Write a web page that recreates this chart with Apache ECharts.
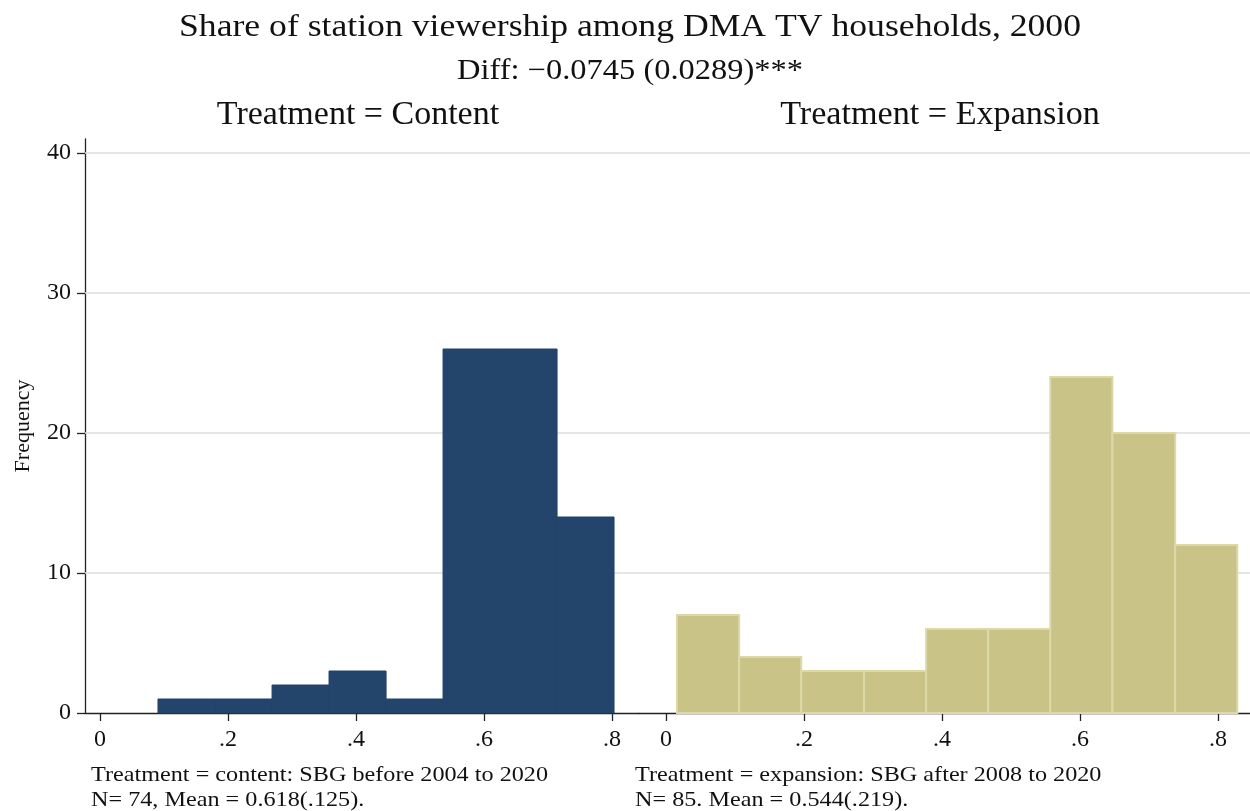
<!DOCTYPE html>
<html>
<head>
<meta charset="utf-8">
<script src="https://cdn.jsdelivr.net/npm/echarts@6/dist/echarts.min.js"></script>
<style>
html,body{margin:0;padding:0;background:#fff;}
#chart{width:1250px;height:811px;}
</style>
</head>
<body>
<div id="chart"></div>
<script>
// ---- Data ----
var contentBinEdges = [0.0906, 0.1797, 0.2688, 0.3578, 0.4469, 0.5359, 0.6250, 0.7140, 0.8030];
var contentCounts   = [1, 1, 2, 3, 1, 26, 26, 14];
var expansionBinEdges = [0.016, 0.106, 0.196, 0.287, 0.377, 0.467, 0.557, 0.647, 0.738, 0.828];
var expansionCounts   = [7, 4, 3, 3, 6, 6, 24, 20, 12];
var xTickValues = [0, 0.2, 0.4, 0.6, 0.8];
var yTickValues = [0, 10, 20, 30, 40];
var yGridValues = [10, 20, 30, 40];

var titleText = 'Share of station viewership among DMA TV households, 2000';
var subtitleText = 'Diff: \u22120.0745 (0.0289)***';
var panelTitles = ['Treatment = Content', 'Treatment = Expansion'];
var notes = [
  ['Treatment = content: SBG before 2004 to 2020', 'N= 74, Mean = 0.618(.125).'],
  ['Treatment = expansion: SBG after 2008 to 2020', 'N= 85. Mean = 0.544(.219).']
];

function toBins(edges, counts) {
  var out = [];
  for (var i = 0; i < counts.length; i++) out.push([edges[i], edges[i + 1], counts[i]]);
  return out;
}

var FONT = '"Liberation Serif", "Times New Roman", serif';
var chart = echarts.init(document.getElementById('chart'), null, {renderer: 'canvas'});

function xAxisCfg(idx, min, max) {
  return {
    type: 'value', gridIndex: idx, min: min, max: max,
    axisLine: {show: true, onZero: false, lineStyle: {color: '#222', width: 1.3}},
    axisTick: {show: true, length: 8, lineStyle: {color: '#222', width: 1.3}, customValues: xTickValues},
    axisLabel: {
      show: true, margin: 15, color: '#111', fontFamily: FONT, fontSize: 24,
      customValues: xTickValues,
      formatter: function (v) { return v === 0 ? '0' : String(+v.toFixed(1)).replace(/^0/, ''); }
    },
    splitLine: {show: false}
  };
}
function yAxisCfg(idx, showAxis) {
  return {
    type: 'value', gridIndex: idx, min: 0, max: 41,
    axisLine: {show: showAxis, onZero: false, lineStyle: {color: '#222', width: 1.3}},
    axisTick: {show: showAxis, length: 8, lineStyle: {color: '#222', width: 1.3}, customValues: yTickValues},
    axisLabel: {show: showAxis, margin: 14, color: '#111', fontFamily: FONT, fontSize: 24, customValues: yTickValues},
    splitLine: {show: false}
  };
}

function barSeries(idx, bins, fill, stroke, lw) {
  return {
    type: 'custom', xAxisIndex: idx, yAxisIndex: idx, z: 5,
    data: bins,
    encode: {x: [0, 1], y: 2},
    renderItem: function (params, api) {
      var p0 = api.coord([api.value(0), api.value(2)]);
      var p1 = api.coord([api.value(1), 0]);
      return {
        type: 'rect',
        shape: {x: p0[0], y: p0[1], width: p1[0] - p0[0], height: p1[1] - p0[1]},
        style: {fill: fill, stroke: stroke, lineWidth: lw}
      };
    },
    silent: true
  };
}
function gridLineSeries(idx) {
  return {
    type: 'line', xAxisIndex: idx, yAxisIndex: idx, data: [], z: 1, silent: true,
    markLine: {
      silent: true, symbol: 'none', animation: false, label: {show: false},
      lineStyle: {color: '#dedede', width: 1.6, type: 'solid'},
      data: yGridValues.map(function (v) { return {yAxis: v}; })
    }
  };
}

function txt(s, x, y, size, sx, align, rot) {
  return {
    type: 'text', x: x, y: y, scaleX: sx, rotation: rot || 0,
    style: {text: s, font: size + 'px ' + FONT, fill: '#111', align: align, verticalAlign: 'middle'}
  };
}

var graphics = [
  txt(titleText, 630, 28, 31, 1.15, 'center'),
  txt(subtitleText, 630, 71, 29, 1.12, 'center'),
  txt(panelTitles[0], 358, 115, 33, 1.03, 'center'),
  txt(panelTitles[1], 940, 115, 33, 1.035, 'center'),
  txt('Frequency', 23, 426, 22, 1, 'center', Math.PI / 2),
  txt(notes[0][0], 91, 775, 22, 1.1, 'left'),
  txt(notes[0][1], 91, 800, 22, 1.1, 'left'),
  txt(notes[1][0], 635, 775, 22, 1.1, 'left'),
  txt(notes[1][1], 635, 800, 22, 1.1, 'left')
];

var option = {
  animation: false,
  backgroundColor: '#ffffff',
  grid: [
    {left: 85, top: 139, width: 554, height: 574, containLabel: false},
    {left: 639, top: 139, width: 611, height: 574, containLabel: false}
  ],
  xAxis: [xAxisCfg(0, -0.0234, 0.842), xAxisCfg(1, -0.0391, 0.8464)],
  yAxis: [yAxisCfg(0, true), yAxisCfg(1, false)],
  series: [
    gridLineSeries(0), gridLineSeries(1),
    barSeries(0, toBins(contentBinEdges, contentCounts), '#23456b', '#22436b', 1),
    barSeries(1, toBins(expansionBinEdges, expansionCounts), '#c9c388', '#dcd9a8', 2)
  ],
  graphic: graphics
};
chart.setOption(option);
</script>
</body>
</html>
